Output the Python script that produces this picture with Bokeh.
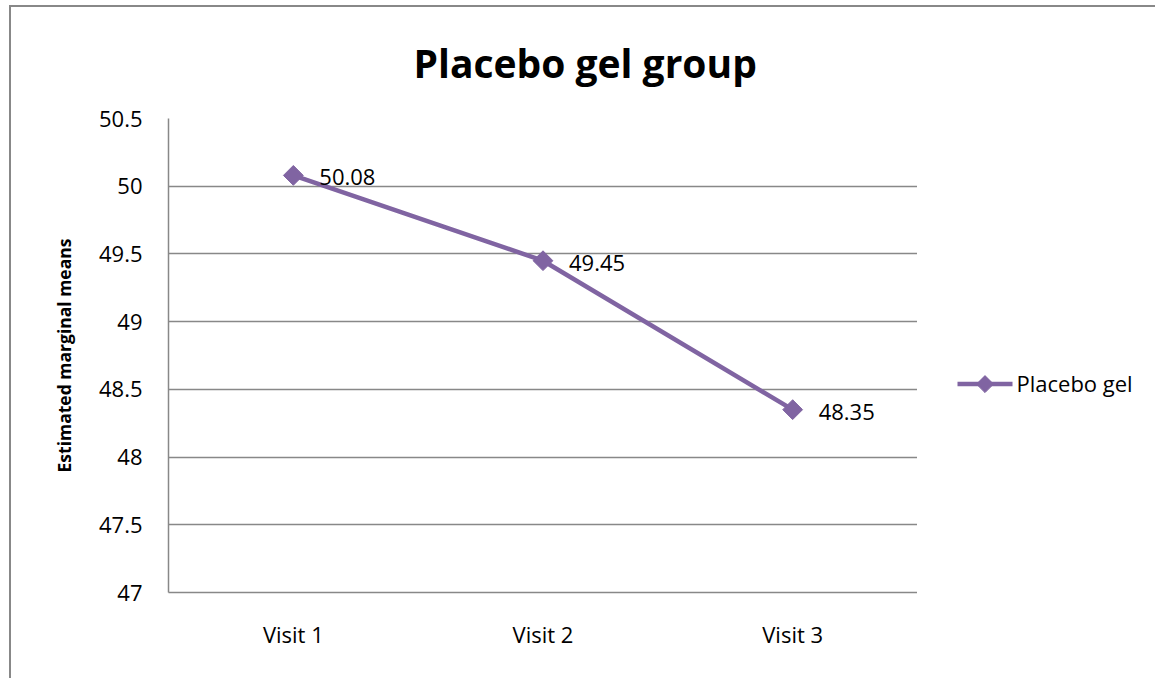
import math
from bokeh.plotting import figure
from bokeh.layouts import row
from bokeh.models import (ColumnDataSource, FixedTicker, FactorRange, LabelSet, Range1d)
from bokeh.core.properties import value
from bokeh.embed import file_html
from bokeh.resources import INLINE

# ---- data ----
visits = ["Visit 1", "Visit 2", "Visit 3"]
means = [50.08, 49.45, 48.35]
mean_labels = ["50.08", "49.45", "48.35"]
y_ticks = [47, 47.5, 48, 48.5, 49, 49.5, 50, 50.5]
y_tick_labels = ["47", "47.5", "48", "48.5", "49", "49.5", "50", "50.5"]
series_name = "Placebo gel"
title_text = "Placebo gel group"
y_title = "Estimated marginal means"

FONT = "Open Sans"
PURPLE = "#8064A2"
GRAY = "#888888"

# page placement of the chart box (border at x=9, y=5, 2px wide)
OX, OY = 11, 7
H = 678 - OY
FL, FR, FT, FB = 168 - OX, 917 - OX, 117 - OY, 592 - OY
W = FR          # main figure ends at plot-area right edge
LW = 1155 - 917  # legend strip width

src = ColumnDataSource(dict(x=visits, y=means, lab=mean_labels))

p = figure(width=W, height=H, output_backend="svg", toolbar_location=None,
           x_range=FactorRange(*visits, range_padding=0), y_range=(47, 50.5),
           min_border_left=FL, min_border_right=0,
           min_border_top=FT, min_border_bottom=H - FB,
           title=title_text)
p.background_fill_color = "white"
p.border_fill_color = "white"
p.outline_line_color = None

# title
p.title.text_font = FONT
p.title.text_font_size = "39px"
p.title.text_font_style = "bold"
p.title.align = "left"
p.title.vertical_align = "top"
p.title.offset = 413 - 168
p.title.standoff = 56
p.title.text_color = "black"

# grid
p.xgrid.visible = False
p.ygrid.ticker = FixedTicker(ticks=y_ticks)
p.ygrid.grid_line_color = GRAY
p.ygrid.grid_line_width = 1.5

# axes
p.yaxis.ticker = FixedTicker(ticks=y_ticks)
p.yaxis.major_label_overrides = {t: l for t, l in zip(y_ticks, y_tick_labels)}
for ax in (p.xaxis[0], p.yaxis[0]):
    ax.axis_line_color = GRAY
    ax.axis_line_width = 1.5
    ax.major_tick_line_color = None
    ax.minor_tick_line_color = None
    ax.major_tick_out = 0
    ax.major_tick_in = 0
    ax.major_label_text_font = FONT
    ax.major_label_text_font_size = "22px"
    ax.major_label_text_color = "black"
p.yaxis.major_label_standoff = 26
p.xaxis.major_label_standoff = 26
p.yaxis.axis_label = y_title
p.yaxis.axis_label_text_font = FONT
p.yaxis.axis_label_text_font_size = "17.5px"
p.yaxis.axis_label_text_font_style = "bold"
p.yaxis.axis_label_text_color = "black"
p.yaxis.axis_label_standoff = 20

# series
r_line = p.line("x", "y", source=src, line_color=PURPLE, line_width=4.5)
r_pts = p.scatter("x", "y", source=src, marker="square", angle=math.pi / 4,
                  size=14, fill_color=PURPLE, line_color=PURPLE)

# data labels
p.add_layout(LabelSet(x="x", y="y", text="lab", source=src, x_offset=26, y_offset=-2,
                      text_baseline="middle", text_align="left",
                      text_font=value(FONT), text_font_size="22px", text_color="black"))

# legend strip (drawn in its own small canvas, in pixel units)
lg = figure(width=LW, height=H, output_backend="svg", toolbar_location=None,
            x_range=Range1d(0, LW), y_range=Range1d(0, H),
            x_axis_location=None, y_axis_location=None,
            min_border=0, min_border_left=0, min_border_right=0,
            min_border_top=0, min_border_bottom=0)
lg.outline_line_color = None
lg.grid.visible = False
lg.background_fill_color = "white"
lg.border_fill_color = "white"
key_y = H - (383 - OY)
key_x0, key_x1 = 957 - 917, 1012 - 917
lg.line([key_x0, key_x1], [key_y, key_y], line_color=PURPLE, line_width=4.5)
lg.scatter([(key_x0 + key_x1) / 2], [key_y], marker="square", angle=math.pi / 4,
           size=12, fill_color=PURPLE, line_color=PURPLE)
lg.text([key_x1 + 4], [key_y + 1], text=[series_name], text_font=value(FONT),
        text_font_size="22px", text_baseline="middle", text_align="left",
        text_color="black")

layout = row(p, lg)
layout.margin = (OY - 2, 0, 0, OX - 2)
layout.styles = {"border-top": "2px solid #888888", "border-left": "2px solid #888888"}

open("out.html", "w").write(file_html(layout, INLINE))
